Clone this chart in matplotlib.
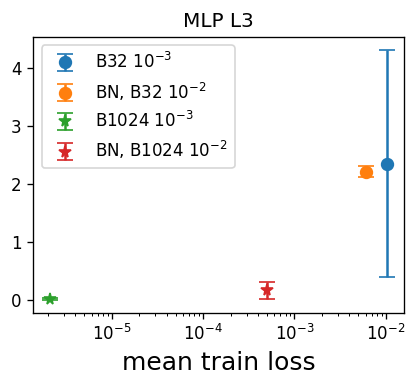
import matplotlib
matplotlib.use('Agg')
import matplotlib.pyplot as plt

labels = [r'B32 $10^{-3}$', r'BN, B32 $10^{-2}$', r'B1024 $10^{-3}$', r'BN, B1024 $10^{-2}$']
train_loss = [0.0104, 0.00604, 2.12e-6, 5.02e-4]
value = [2.35, 2.21, 0.02, 0.17]
err = [1.96, 0.10, 0.02, 0.145]
markers = ['o', 'o', '*', '*']
colors = ['#1f77b4', '#ff7f0e', '#2ca02c', '#d62728']

fig, ax = plt.subplots(figsize=(418 / 120, 386 / 120), dpi=120)
for x, y, e, m, c, lab in zip(train_loss, value, err, markers, colors, labels):
    ax.errorbar([x], [y], yerr=[e], fmt=m, color=c, capsize=5, markersize=7, label=lab)

ax.set_xscale('log')
ax.set_xlabel('mean train loss', fontsize=15)
ax.set_title('MLP L3', fontsize=12)
ax.legend(loc='upper left', fontsize=10)

plt.subplots_adjust(left=0.08, right=0.967, bottom=0.19, top=0.904)
plt.savefig('out.png', dpi=120)
